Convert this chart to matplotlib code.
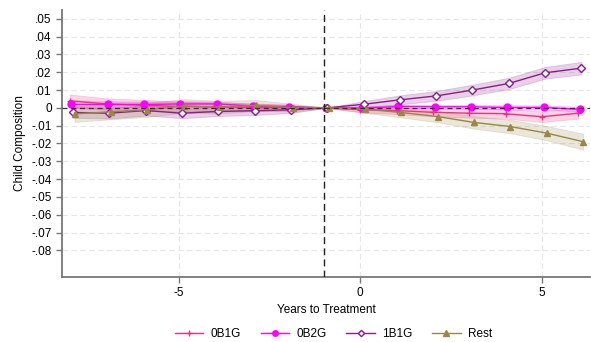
import numpy as np
import matplotlib.pyplot as plt

plt.rcParams['font.family'] = ['Liberation Sans', 'DejaVu Sans']
plt.rcParams['axes.unicode_minus'] = False

years = [-8, -7, -6, -5, -4, -3, -2, -1, 0, 1, 2, 3, 4, 5, 6]

b_0b1g = [0.0040, 0.0022, 0.0015, 0.0008, 0.0005, 0.0003, 0.0002, 0.0, -0.0010, -0.0015, -0.0025, -0.0030, -0.0033, -0.0050, -0.0030]
b_0b2g = [0.0019, 0.0019, 0.0019, 0.0022, 0.0022, 0.0011, 0.0007, 0.0, -0.0002, 0.0008, 0.0006, 0.0006, 0.0002, 0.0002, -0.0008]
b_1b1g = [-0.0026, -0.0030, -0.0015, -0.0030, -0.0020, -0.0016, -0.0011, 0.0, 0.0020, 0.0045, 0.0067, 0.0100, 0.0137, 0.0197, 0.0223]
b_rest = [-0.0034, -0.0022, -0.0011, 0.0011, 0.0004, 0.0014, 0.0001, 0.0, -0.0008, -0.0026, -0.0049, -0.0082, -0.0105, -0.0142, -0.0190]

# half widths of the confidence bands
ci_0b1g = [0.0035, 0.0032, 0.0030, 0.0028, 0.0026, 0.0022, 0.0016, 0.0, 0.0015, 0.0020, 0.0022, 0.0025, 0.0027, 0.0030, 0.0030]
ci_0b2g = [0.0020, 0.0018, 0.0016, 0.0015, 0.0014, 0.0012, 0.0010, 0.0, 0.0008, 0.0010, 0.0010, 0.0011, 0.0012, 0.0012, 0.0013]
ci_1b1g = [0.0030, 0.0030, 0.0028, 0.0028, 0.0026, 0.0024, 0.0018, 0.0, 0.0018, 0.0025, 0.0028, 0.0030, 0.0032, 0.0033, 0.0035]
ci_rest = [0.0045, 0.0042, 0.0040, 0.0038, 0.0036, 0.0030, 0.0022, 0.0, 0.0020, 0.0028, 0.0032, 0.0035, 0.0038, 0.0040, 0.0045]

labels = ['0B1G', '0B2G', '1B1G', 'Rest']
yticks = [0.05, 0.04, 0.03, 0.02, 0.01, 0, -0.01, -0.02, -0.03, -0.04, -0.05, -0.06, -0.07, -0.08]
ytick_labels = ['.05', '.04', '.03', '.02', '.01', '0', '-.01', '-.02', '-.03', '-.04', '-.05', '-.06', '-.07', '-.08']

series = [b_0b1g, b_0b2g, b_1b1g, b_rest]
cis = [ci_0b1g, ci_0b2g, ci_1b1g, ci_rest]
colors = ['#f0307f', '#ff00ff', '#8b1c8b', '#9a8645']
markers = ['+', 'o', 'D', '^']
offsets = [0.0, 0.045, 0.09, 0.135]

fig = plt.figure(figsize=(5.91, 3.42), dpi=100)
ax = fig.add_axes([0.105, 0.19, 0.893, 0.781])

x = np.array(years, dtype=float)
for b, ci, c, m, off, lab in zip(series, cis, colors, markers, offsets, labels):
    b = np.array(b)
    ci = np.array(ci)
    xx = x + off
    ax.fill_between(xx, b - ci, b + ci, color=c, alpha=0.2, linewidth=0.6, zorder=2)
    if m == 'D':
        ax.plot(xx, b, color=c, lw=1.0, marker=m, ms=4, mfc='white', mec=c, mew=1.0, label=lab, zorder=3)
    elif m == '+':
        ax.plot(xx, b, color=c, lw=1.0, marker=m, ms=5, mew=1.0, label=lab, zorder=3)
    else:
        ax.plot(xx, b, color=c, lw=1.0, marker=m, ms=5, label=lab, zorder=3)

ax.axhline(0, color='#333333', ls=(0, (4, 3)), lw=0.9, zorder=4)
ax.axvline(-1, color='#222222', ls=(0, (5, 3)), lw=1.0, zorder=4)

ax.set_xlim(-8.21, 6.32)
ax.set_ylim(-0.095, 0.055)
ax.set_xticks([-5, 0, 5])
ax.set_yticks(yticks)
ax.set_yticklabels(ytick_labels)
ax.grid(True, color='#e6e6e6', ls=(0, (5, 3)), lw=0.8)
ax.set_axisbelow(True)

for s in ['top', 'right']:
    ax.spines[s].set_visible(False)
for s in ['left', 'bottom']:
    ax.spines[s].set_color('#777777')
    ax.spines[s].set_linewidth(1.3)
ax.tick_params(axis='both', colors='#777777', labelcolor='black', labelsize=8.5, length=4, width=1.0)

ax.set_xlabel('Years to Treatment', fontsize=8.5, labelpad=3)
ax.set_ylabel('Child Composition', fontsize=8.5, labelpad=4)

fig.legend(loc='center', bbox_to_anchor=(0.564, 0.022), ncol=4, frameon=False,
           fontsize=8.5, handlelength=2.4, handletextpad=0.6, columnspacing=1.7, markerscale=0.8)

fig.savefig('out.png', dpi=100)
